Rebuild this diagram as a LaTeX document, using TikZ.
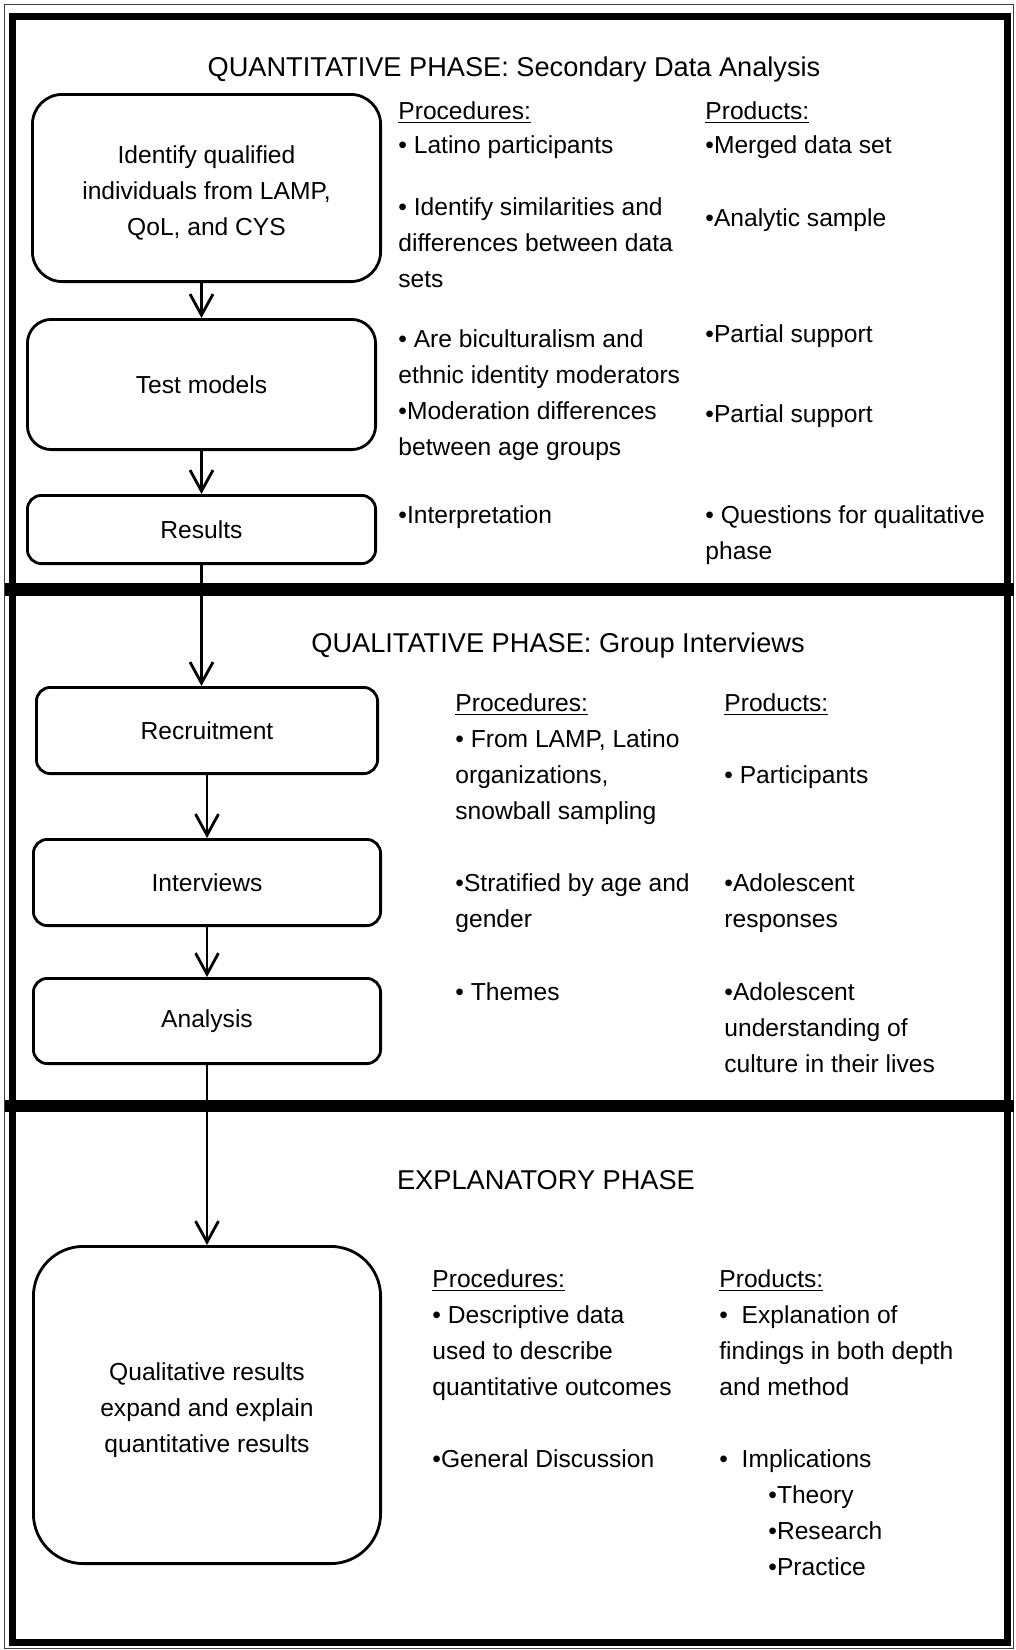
\documentclass[tikz,border=0pt]{standalone}
\usepackage{fontspec}
\setmainfont{Liberation Sans}
\usetikzlibrary{arrows.meta, positioning}
\newcommand{\bodysize}{\fontsize{12.3}{18}\selectfont}
\newcommand{\headsize}{\fontsize{13.6}{18}\selectfont}
\newcommand{\topstrut}{\rule{0pt}{14pt}}
\tikzstyle{process} = [rectangle, rounded corners=7pt, minimum width=173.6pt, minimum height=43.1pt, text centered, align=center, draw=black, line width=1.4pt, font=\bodysize, inner sep=0pt]
\tikzstyle{txt} = [anchor=base west, align=left, inner sep=0pt, font=\bodysize]
\tikzstyle{head} = [anchor=base, inner sep=0pt, font=\headsize]
\tikzstyle{arrow} = [line width=1.4pt,-{Straight Barb[length=10.5pt,width=11.5pt,line width=1.4pt]}]

\begin{document}
\begin{tikzpicture}[x=0.5pt,y=-0.5pt]
\useasboundingbox (0,0) rectangle (1016,1650);

\draw [line width=0.5pt, black!75] (4.5,4.5) rectangle (1013.5,1648.5);
\draw [line width=3.5pt] (12.5,16) rectangle (1007.5,1642.5);
\draw [line width=6.25pt] (4.5,589.5) -- (1013.5,589.5);
\draw [line width=6.25pt] (4.5,1106) -- (1013.5,1106);

\node (head1) [head] at (514,76) {QUANTITATIVE PHASE: Secondary Data Analysis};
\node (identify) [process, minimum width=174.1pt, minimum height=93.6pt, rounded corners=15pt] at (206.5,188) {\topstrut Identify qualified\\individuals from LAMP,\\QoL, and CYS};
\node (test) [process, minimum width=174.1pt, minimum height=65.1pt, rounded corners=12pt] at (201.5,384.5) {Test models};
\node (results) [process, minimum width=174.1pt, minimum height=34.1pt] at (201.5,529.5) {Results};

\node (proc1) [txt] at (398,119) {\underline{Procedures:}};
\node (prod1) [txt] at (705,119) {\underline{Products:}};
\node (proc1a) [txt] at (398,153) {• Latino participants};
\node (proc1b) [txt] at (398,287) {• Identify similarities and\\differences between data\\sets};
\node (proc1c) [txt] at (398,455) {• Are biculturalism and\\ethnic identity moderators\\•Moderation differences\\between age groups};
\node (proc1d) [txt] at (398,523) {•Interpretation};
\node (prod1a) [txt] at (705,153) {•Merged data set};
\node (prod1b) [txt] at (705,226) {•Analytic sample};
\node (prod1c) [txt] at (705,342) {•Partial support};
\node (prod1d) [txt] at (705,422) {•Partial support};
\node (prod1e) [txt] at (705,559) {• Questions for qualitative\\phase};

\node (head2) [head] at (558,652) {QUALITATIVE PHASE: Group Interviews};
\node (recruit) [process, minimum width=170.6pt] at (207,730.5) {Recruitment};
\node (interview) [process] at (207,882.5) {Interviews};
\node (analysis) [process, minimum height=42.6pt] at (207,1021) {Analysis};

\node (proc2) [txt] at (455,711) {\underline{Procedures:}};
\node (prod2) [txt] at (724,711) {\underline{Products:}};
\node (proc2a) [txt] at (455,819) {• From LAMP, Latino\\organizations,\\snowball sampling};
\node (proc2b) [txt] at (455,927) {•Stratified by age and\\gender};
\node (proc2c) [txt] at (455,1000) {• Themes};
\node (prod2a) [txt] at (724,783) {• Participants};
\node (prod2b) [txt] at (724,927) {•Adolescent\\responses};
\node (prod2c) [txt] at (724,1072) {•Adolescent\\understanding of\\culture in their lives};

\node (head3) [head] at (546,1189) {EXPLANATORY PHASE};
\node (explain) [process, minimum height=158.6pt, rounded corners=25pt] at (207,1405) {\topstrut Qualitative results\\expand and explain\\quantitative results};

\node (proc3) [txt] at (432,1287) {\underline{Procedures:}};
\node (prod3) [txt] at (719,1287) {\underline{Products:}};
\node (proc3a) [txt] at (432,1395) {• Descriptive data\\used to describe\\quantitative outcomes};
\node (proc3b) [txt] at (432,1467) {•General Discussion};
\node (prod3a) [txt] at (719,1395) {•~~Explanation of\\findings in both depth\\and method};
\node (prod3b) [txt] at (719,1467) {•~~Implications};
\node (prod3c) [txt] at (768,1575) {•Theory\\•Research\\•Practice};

\draw [arrow] (identify.south -| test.north) -- (test.north);
\draw [arrow] (test) -- (results);
\draw [arrow] (results.south) -- (results.south |- recruit.north);
\draw [arrow] (recruit) -- (interview);
\draw [arrow] (interview) -- (analysis);
\draw [arrow] (analysis) -- (explain);

\end{tikzpicture}
\end{document}
